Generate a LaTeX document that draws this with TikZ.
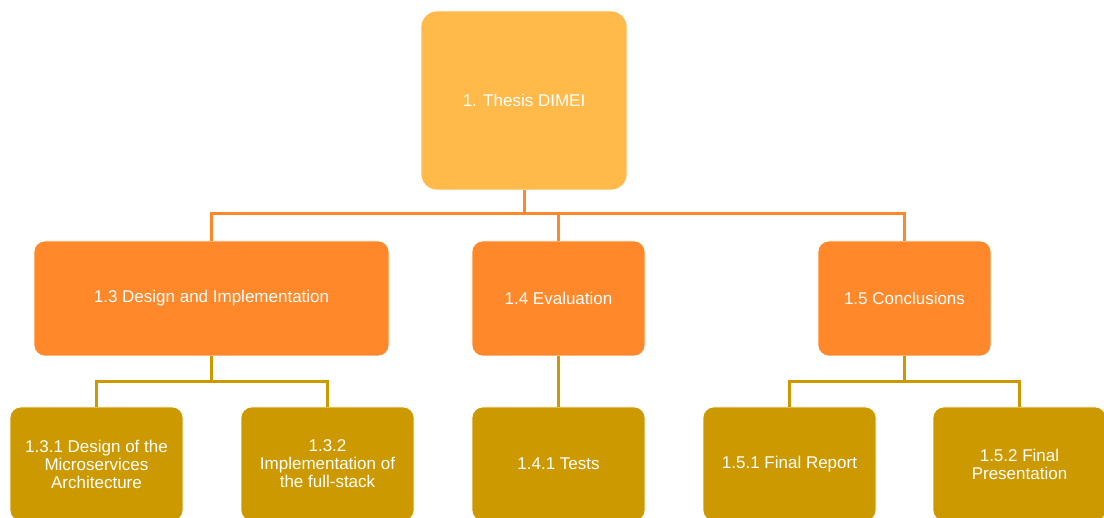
\documentclass[tikz,border=0pt]{standalone}
\usepackage{fontspec}
\setmainfont{Liberation Sans}
\definecolor{lvlone}{RGB}{255,186,74}
\definecolor{lvltwo}{RGB}{255,136,42}
\definecolor{lvlthree}{RGB}{204,153,0}
\tikzset{
  box/.style={rounded corners=11pt, draw=white, line width=0.6pt, text=white,
    align=center, inner sep=0pt, font=\fontsize{17}{18}\selectfont},
  topbox/.style={box, fill=lvlone, rounded corners=16pt, minimum width=206pt, minimum height=179pt},
  midbox/.style={box, fill=lvltwo, minimum height=115pt},
  lowbox/.style={box, fill=lvlthree, minimum width=173pt, minimum height=114pt},
  connA/.style={draw=lvltwo, line width=3pt},
  connB/.style={draw=lvlthree, line width=3pt}
}
\begin{document}
\begin{tikzpicture}[x=1pt,y=-1pt]
\useasboundingbox (0,0) rectangle (1104,518);
\node[topbox] (t) at (524,100.5) {1. Thesis DIMEI};
\node[midbox, minimum width=355pt] (a) at (211.5,298.5) {1.3 Design and Implementation};
\node[midbox, minimum width=173pt] (b) at (558.5,298.5) {1.4 Evaluation};
\node[midbox, minimum width=173pt] (c) at (904.5,298.5) {1.5 Conclusions};
\node[lowbox] (a1) at (96.5,464) {1.3.1 Design of the\\Microservices\\Architecture};
\node[lowbox] (a2) at (327.5,464) {1.3.2\\Implementation of\\the full-stack};
\node[lowbox] (b1) at (558.5,464) {1.4.1 Tests};
\node[lowbox] (c1) at (789.5,464) {1.5.1 Final Report};
\node[lowbox] (c2) at (1019.5,464) {1.5.2 Final\\Presentation};
\coordinate (busA) at (524,214);
\coordinate (busB) at (211.5,382);
\coordinate (busC) at (904.5,382);
\draw[connA] (t.south) -- (busA);
\draw[connA] (a.north) |- (busA);
\draw[connA] (c.north) |- (busA);
\draw[connA] (b.north) -- (b.north |- busA);
\draw[connB] (a.south) -- (busB);
\draw[connB] (a1.north) |- (busB);
\draw[connB] (a2.north) |- (busB);
\draw[connB] (b.south) -- (b1.north);
\draw[connB] (c.south) -- (busC);
\draw[connB] (c1.north) |- (busC);
\draw[connB] (c2.north) |- (busC);
\end{tikzpicture}
\end{document}
